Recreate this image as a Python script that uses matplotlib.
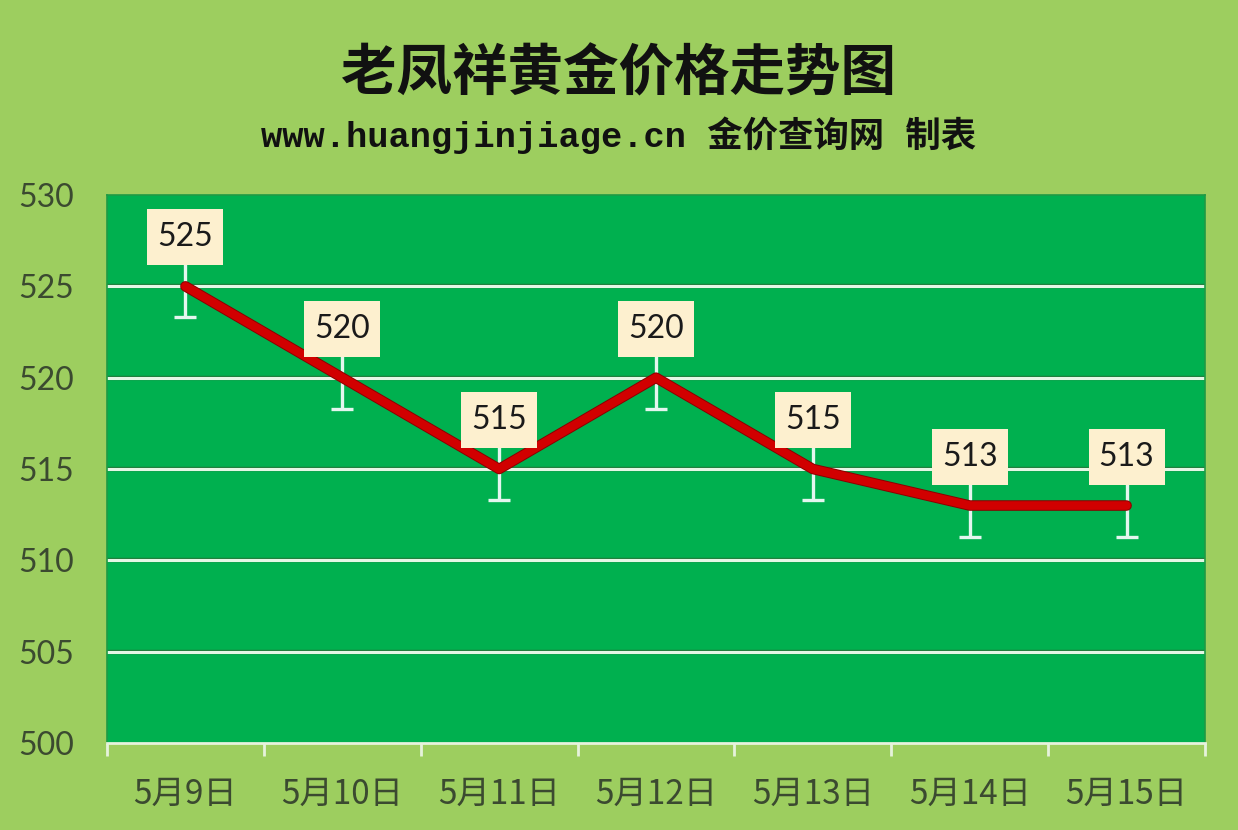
import matplotlib
matplotlib.use("Agg")
import matplotlib.pyplot as plt
import matplotlib.patheffects as pe
import matplotlib.transforms as mtransforms
from matplotlib.patches import Rectangle
import numpy as np

# Data
categories = ["5月9日", "5月10日", "5月11日", "5月12日", "5月13日", "5月14日", "5月15日"]
prices = [525, 520, 515, 520, 515, 513, 513]
err = [1.7, 1.7, 1.7, 1.7, 1.7, 1.7, 1.7]
yticks = [500, 505, 510, 515, 520, 525, 530]
title = "老凤祥黄金价格走势图"
subtitle = "www.huangjinjiage.cn 金价查询网 制表"

BG = "#9dce5f"
PLOT = "#00b04f"
CJK = ["Noto Sans CJK SC", "DejaVu Sans"]

fig = plt.figure(figsize=(12.38, 8.30), dpi=100, facecolor=BG)
ax = fig.add_axes([107/1238, 87/830, 1098/1238, 548/830])
ax.set_facecolor(PLOT)
for side in ["top", "right", "left"]:
    ax.spines[side].set_color("#1f9a45")
    ax.spines[side].set_linewidth(1.2)
ax.spines["bottom"].set_color("#e6f2dc")
ax.spines["bottom"].set_linewidth(2)

x = np.arange(len(categories))
ax.set_xlim(-0.5, len(categories) - 0.5)
ax.set_ylim(yticks[0], yticks[-1])

# grid lines
for yv in yticks[1:-1]:
    ax.axhline(yv, color="#1c7d3a", lw=3.2, zorder=1)
    ax.axhline(yv, color="#e4f7e6", lw=2.2, zorder=1.1)

# error bars
ax.errorbar(x, prices, yerr=err, fmt="none", ecolor="#e4f6ef", elinewidth=2.4,
            capsize=8, capthick=2.4, zorder=2)

# line
ax.plot(x, prices, color="#d10000", lw=6.2, solid_capstyle="round",
        solid_joinstyle="round", zorder=3,
        path_effects=[pe.Stroke(linewidth=7.6, foreground="#8a0000"), pe.Normal()])

# data labels (fixed-size boxes in inches, anchored at the data point)
for xi, yi in zip(x, prices):
    tr = fig.dpi_scale_trans + mtransforms.ScaledTranslation(xi, yi, ax.transData)
    ax.add_patch(Rectangle((-0.38, 0.21), 0.76, 0.56, transform=tr,
                           facecolor="#fdf0cf", edgecolor="none", zorder=5, clip_on=False))
    ax.text(0, 0.49, str(yi), transform=tr, ha="center", va="center",
            fontsize=23, family="Lato", color="#1a1a1a", zorder=6)

# ticks
ax.set_yticks(yticks)
ax.set_yticklabels([str(v) for v in yticks], fontsize=23, family="Lato", color="#3b4a30")
ax.tick_params(axis="y", length=0, pad=24)
ax.set_xticks(np.arange(-0.5, len(categories)), minor=False)
ax.set_xticklabels([])
ax.tick_params(axis="x", which="major", length=9, width=2, color="#e6f2dc", direction="out")
ax.set_xticks(x, minor=True)
ax.set_xticklabels(categories, minor=True, fontsize=24, family=CJK, color="#3b4a30")
ax.tick_params(axis="x", which="minor", length=0, pad=24)

fig.text(0.5, 0.91, title, ha="center", va="center", fontsize=40,
         fontweight="bold", family=CJK, color="#111111")
fig.text(0.5, 0.837, subtitle, ha="center", va="center", fontsize=25.5,
         fontweight="bold", family=["Liberation Mono", "Noto Sans CJK SC"], color="#111111")

fig.savefig("out.png", dpi=100, facecolor=BG)
